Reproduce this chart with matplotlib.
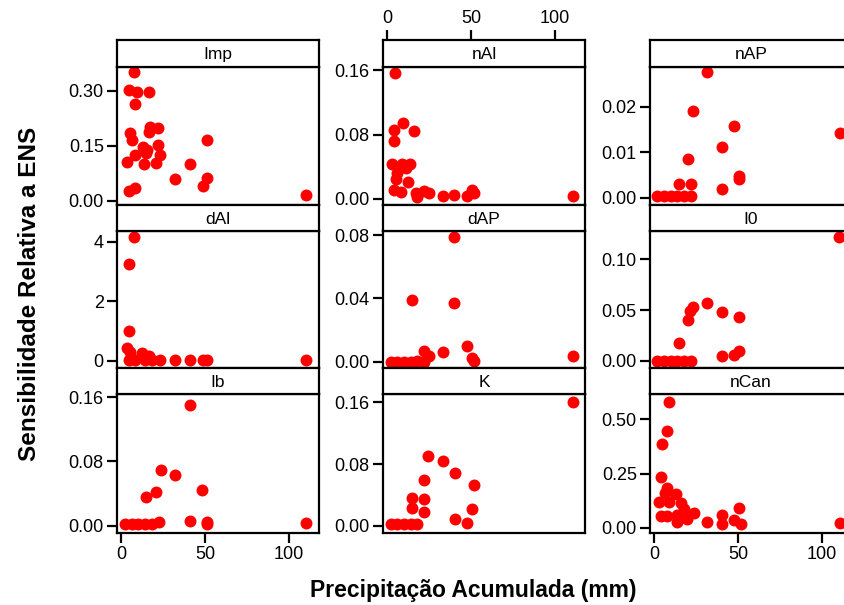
import matplotlib
matplotlib.use("Agg")
import matplotlib.pyplot as plt

plt.rcParams['font.family'] = ['Liberation Sans', 'DejaVu Sans']

# nombres de los paneles
panel_names = ["Imp", "nAl", "nAP", "dAl", "dAP", "I0", "Ib", "K", "nCan"]

# datos (precipitacion acumulada, sensibilidad)
imp_x = [7.7, 4.8, 9.3, 16.3, 8.1, 17.3, 22.2, 16.3, 5.4, 6.4, 51.0, 13.3, 22.2, 15.3, 8.5,
         23.2, 14.9, 3.4, 13.7, 20.8, 41.1, 32.1, 51.0, 48.6, 4.8, 8.3, 110.1]
imp_y = [0.350, 0.302, 0.297, 0.297, 0.264, 0.202, 0.197, 0.188, 0.185, 0.166, 0.166, 0.147,
         0.152, 0.138, 0.125, 0.125, 0.131, 0.105, 0.099, 0.104, 0.099, 0.058, 0.061, 0.041,
         0.026, 0.034, 0.014]

nal_x = [4.5, 9.5, 16.0, 4.1, 4.1, 2.8, 8.7, 13.4, 6.1, 12.6, 4.1, 8.1, 17.0, 21.9, 24.9,
         17.9, 33.1, 40.0, 47.5, 50.5, 51.5, 110.7, 5.5, 11.0]
nal_y = [0.157, 0.094, 0.085, 0.086, 0.072, 0.043, 0.044, 0.044, 0.032, 0.021, 0.011, 0.009,
         0.007, 0.010, 0.007, 0.003, 0.004, 0.005, 0.004, 0.011, 0.007, 0.004, 0.025, 0.038]

nap_x = [31.7, 23.2, 47.7, 110.6, 40.3, 20.4, 14.8, 21.8, 50.7, 50.7, 40.3,
         1.8, 5.8, 9.8, 13.8, 17.8, 22.2]
nap_y = [0.0276, 0.0191, 0.0158, 0.0143, 0.0111, 0.0084, 0.0030, 0.0030, 0.0048, 0.0040,
         0.0019, 0.0003, 0.0003, 0.0003, 0.0003, 0.0003, 0.0003]

dal_x = [7.7, 4.8, 4.8, 3.4, 5.4, 12.3, 16.3,
         4.4, 8.3, 14.3, 18.3, 23.2, 32.1, 41.1, 49.0, 51.0, 110.1]
dal_y = [4.16, 3.27, 0.99, 0.43, 0.31, 0.26, 0.15,
         0.02, 0.02, 0.02, 0.02, 0.02, 0.02, 0.02, 0.02, 0.02, 0.02]

dap_x = [40.0, 14.6, 40.0, 47.5, 33.1, 21.9, 24.9, 50.5, 51.5, 110.7,
         2.2, 6.1, 10.1, 14.0, 17.9, 21.9]
dap_y = [0.0786, 0.0390, 0.0373, 0.0099, 0.0063, 0.0070, 0.0036, 0.0021, 0.0004, 0.0036,
         0.0000, 0.0000, 0.0000, 0.0000, 0.0003, 0.0000]

i0_x = [110.0, 31.7, 23.2, 21.1, 40.3, 50.7, 20.4, 14.8, 50.7, 47.7, 40.3,
        1.8, 5.8, 9.8, 13.8, 17.8, 22.2]
i0_y = [0.1216, 0.0573, 0.0528, 0.0495, 0.0479, 0.0430, 0.0403, 0.0180, 0.0101, 0.0059,
        0.0049, 0.0000, 0.0000, 0.0000, 0.0000, 0.0000, 0.0000]

ib_x = [41.1, 23.6, 32.1, 48.4, 20.8, 14.9, 41.1, 51.0, 51.0, 110.1,
        2.4, 6.4, 10.3, 14.3, 18.3, 22.8]
ib_y = [0.150, 0.069, 0.063, 0.045, 0.042, 0.036, 0.006, 0.005, 0.002, 0.003,
        0.002, 0.002, 0.002, 0.002, 0.002, 0.004]

k_x = [110.7, 24.5, 33.1, 40.2, 51.5, 21.9, 14.6, 21.9, 14.6, 50.5, 21.9, 40.2, 47.5,
       2.2, 6.1, 10.1, 14.0, 17.9]
k_y = [0.160, 0.0908, 0.0843, 0.0688, 0.0528, 0.0593, 0.0355, 0.0342, 0.0234, 0.0213,
       0.0182, 0.0087, 0.0031, 0.002, 0.002, 0.002, 0.002, 0.002]

ncan_x = [8.8, 7.4, 4.8, 4.2, 7.8, 12.8, 6.2, 2.8, 8.8, 16.2, 17.8, 23.8, 3.8, 7.8, 13.8,
          13.8, 19.8, 31.7, 40.3, 40.3, 50.7, 47.7, 51.7, 110.6]
ncan_y = [0.578, 0.446, 0.386, 0.232, 0.182, 0.155, 0.159, 0.120, 0.120, 0.112, 0.085, 0.066,
          0.054, 0.054, 0.059, 0.028, 0.039, 0.028, 0.059, 0.017, 0.089, 0.036, 0.017, 0.020]

xs = [imp_x, nal_x, nap_x, dal_x, dap_x, i0_x, ib_x, k_x, ncan_x]
ys = [imp_y, nal_y, nap_y, dal_y, dap_y, i0_y, ib_y, k_y, ncan_y]

yticks = [[0, 0.15, 0.30], [0, 0.08, 0.16], [0, 0.01, 0.02],
          [0, 2, 4], [0, 0.04, 0.08], [0, 0.05, 0.10],
          [0, 0.08, 0.16], [0, 0.08, 0.16], [0, 0.25, 0.50]]
yticklabels = [["0.00", "0.15", "0.30"], ["0.00", "0.08", "0.16"], ["0.00", "0.01", "0.02"],
               ["0", "2", "4"], ["0.00", "0.04", "0.08"], ["0.00", "0.05", "0.10"],
               ["0.00", "0.08", "0.16"], ["0.00", "0.08", "0.16"], ["0.00", "0.25", "0.50"]]
ylims = [(-0.012, 0.365), (-0.0075, 0.164), (-0.0016, 0.0287),
         (-0.24, 4.37), (-0.004, 0.0826), (-0.0069, 0.1278),
         (-0.0091, 0.164), (-0.0095, 0.1708), (-0.0244, 0.617)]
xlim = (-2.5, 118)
xticks = [0, 50, 100]

W = 844
H = 605
fig = plt.figure(figsize=(W / 100, H / 100), dpi=100)

col_left = [117, 383, 650]
pw = 202
# (strip top, strip bottom, panel bottom) en pixeles
rows = [(40, 67, 205), (205, 231, 368), (368, 394, 533)]
lw = 1.6
fs = 13

for i in range(9):
    r = i // 3
    c = i % 3
    st, sb, pb = rows[r]
    ax = fig.add_axes([col_left[c] / W, 1 - pb / H, pw / W, (pb - sb) / H])
    ax.plot(xs[i], ys[i], "o", color="#ff0000", markersize=8.6, markeredgewidth=0)
    ax.set_xlim(xlim)
    ax.set_ylim(ylims[i])
    ax.set_yticks(yticks[i])
    ax.set_yticklabels(yticklabels[i])
    for s in ax.spines.values():
        s.set_linewidth(lw)
    ax.tick_params(axis="y", direction="out", length=7.5, width=lw, labelsize=fs, pad=2)
    if r == 2 and c != 1:
        ax.set_xticks(xticks)
        ax.tick_params(axis="x", direction="out", length=7.5, width=lw, labelsize=fs, pad=2)
    else:
        ax.set_xticks([])

    # strip
    sax = fig.add_axes([col_left[c] / W, 1 - sb / H, pw / W, (sb - st) / H])
    sax.set_xlim(xlim)
    sax.set_yticks([])
    for s in sax.spines.values():
        s.set_linewidth(lw)
    sax.text(0.5, 0.45, panel_names[i], transform=sax.transAxes, ha="center", va="center",
             fontsize=12.5)
    if r == 0 and c == 1:
        sax.set_xticks(xticks)
        sax.xaxis.tick_top()
        sax.tick_params(axis="x", direction="out", length=7.5, width=lw, labelsize=fs, pad=2)
    else:
        sax.set_xticks([])

fig.text(30 / W, 1 - 294 / H, "Sensibilidade Relativa a ENS", rotation=90, ha="center",
         va="center", fontsize=17.5, fontweight="bold")
fig.text(473 / W, 1 - 591 / H, "Precipitação Acumulada (mm)", ha="center", va="center",
         fontsize=16.5, fontweight="bold")

fig.savefig("out.png", dpi=100)
